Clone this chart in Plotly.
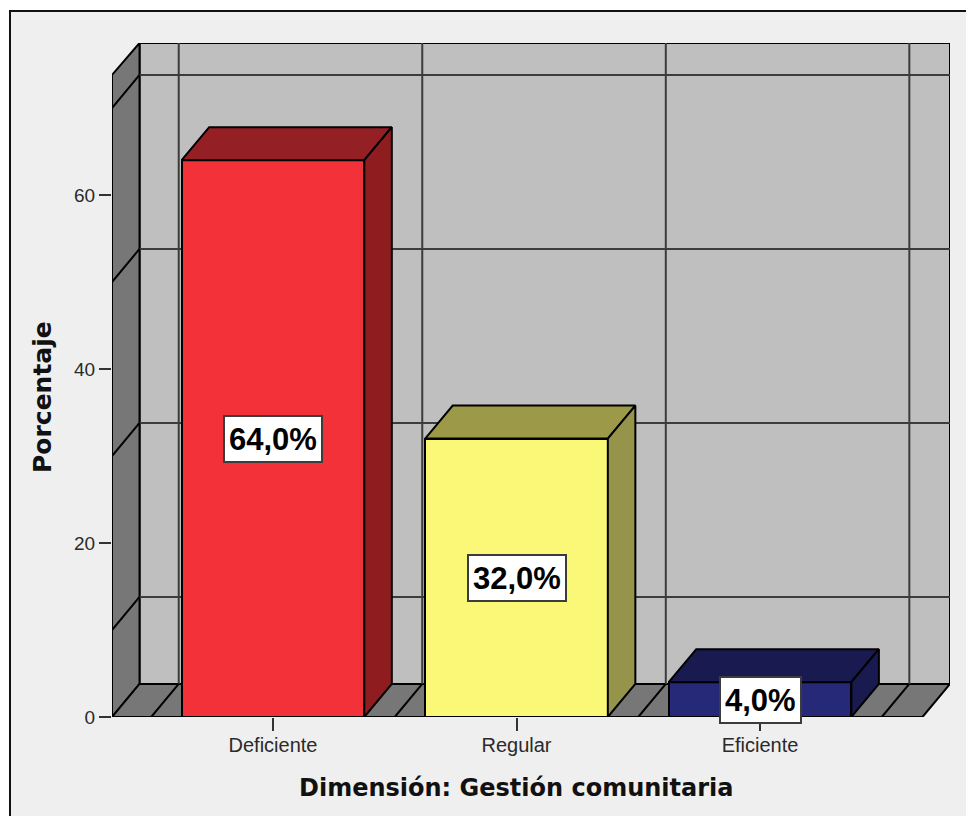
import plotly.graph_objects as go

categories = ["Deficiente", "Regular", "Eficiente"]
values = [64.0, 32.0, 4.0]
labels = ["64,0%", "32,0%", "4,0%"]
front_colors = ["#f23238", "#fbf777", "#262878"]
top_colors = ["#941f24", "#9c9a48", "#191a4f"]
side_colors = ["#8f1d20", "#96944a", "#191a4f"]
y_ticks = [0, 20, 40, 60]
wall_grid = [10, 30, 50, 70]

# fake 3D depth, in axis units
dx = 0.113
dy = 3.8
bar_w = 0.75
x_min = -0.661
x_max = 2.78
y_top = 77.47
wall_top = 73.8
x_right = x_max - dx
LINE = "#000000"
GRID = "#3c3c3c"

fig = go.Figure()

shapes = []


def poly(xs, ys, fill, color=LINE, width=2):
    path = "M " + " L ".join(f"{a},{b}" for a, b in zip(xs, ys)) + " Z"
    return dict(type="path", path=path, xref="x", yref="y", fillcolor=fill,
                line=dict(color=color, width=width), layer="below")


def seg(x0, y0, x1, y1, color=GRID, width=2):
    return dict(type="line", x0=x0, y0=y0, x1=x1, y1=y1, xref="x", yref="y",
                line=dict(color=color, width=width), layer="below")


# walls and floor
back_l = x_min + dx
shapes.append(poly([back_l, x_max, x_max, back_l], [dy, dy, y_top, y_top], "#bfbfbf"))
shapes.append(poly([x_min, back_l, back_l, x_min], [0, dy, y_top, wall_top], "#777777"))
shapes.append(poly([x_min, back_l, x_max, x_right], [0, dy, dy, 0], "#777777"))

for v in wall_grid:
    shapes.append(seg(back_l, v + dy, x_max, v + dy))
    shapes.append(seg(x_min, v, back_l, v + dy, LINE))

for b in [-0.5, 0.5, 1.5, 2.5]:
    shapes.append(seg(b + dx, dy, b + dx, y_top))
    shapes.append(seg(b, 0, b + dx, dy, LINE))

fig.add_trace(go.Bar(
    x=[0, 1, 2], y=values, width=bar_w,
    marker=dict(color=front_colors, line=dict(color=LINE, width=2)),
    hoverinfo="skip", showlegend=False,
))

for i, v in enumerate(values):
    x0 = i - bar_w / 2
    x1 = i + bar_w / 2
    fig.add_trace(go.Scatter(
        x=[x0, x0 + dx, x1 + dx, x1, x0], y=[v, v + dy, v + dy, v, v],
        mode="lines", fill="toself", fillcolor=top_colors[i],
        line=dict(color=LINE, width=2), hoverinfo="skip", showlegend=False,
    ))
    fig.add_trace(go.Scatter(
        x=[x1, x1 + dx, x1 + dx, x1, x1], y=[0, dy, v + dy, v, 0],
        mode="lines", fill="toself", fillcolor=side_colors[i],
        line=dict(color=LINE, width=2), hoverinfo="skip", showlegend=False,
    ))
    fig.add_annotation(
        x=i, y=v / 2, text=labels[i], showarrow=False, height=36,
        font=dict(family="Liberation Sans", size=31, color="#000000", weight="bold"),
        bgcolor="#ffffff", bordercolor="#3c3c3c", borderwidth=2, borderpad=4,
    )

# axis titles placed by hand, the originals are not centred on the plot area
fig.add_annotation(
    xref="paper", yref="paper", x=(516.5 - 112) / 838, y=(717 - 788) / 674,
    xanchor="center", yanchor="middle",
    text="Dimensión: Gestión comunitaria", showarrow=False,
    font=dict(family="DejaVu Sans", size=24, color="#111111", weight="bold"),
)
fig.add_annotation(
    xref="paper", yref="paper", x=(42 - 112) / 838, y=(717 - 397) / 674,
    xanchor="center", yanchor="middle",
    text="Porcentaje", showarrow=False, textangle=-90,
    font=dict(family="DejaVu Sans", size=25, color="#111111", weight="bold"),
)

# outer frame of the screenshot
shapes.append(dict(type="rect", xref="paper", yref="paper",
                   x0=(10 - 112) / 838, x1=(1000 - 112) / 838,
                   y0=-0.2, y1=(717 - 11) / 674,
                   fillcolor="#efefef", line=dict(color="#111111", width=2), layer="below"))
shapes = shapes[-1:] + shapes[:-1]

# the page keeps its 8px body margin, so the figure is 8px smaller each way
fig.update_layout(
    width=966, height=808,
    margin=dict(l=104, r=24, t=35, b=99),
    paper_bgcolor="#ffffff", plot_bgcolor="rgba(0,0,0,0)",
    shapes=shapes, showlegend=False, bargap=0,
    font=dict(family="Liberation Sans", color="#2a2a2a"),
)
fig.update_xaxes(
    range=[x_min, x_max], tickvals=[0, 1, 2], ticktext=categories,
    showgrid=False, zeroline=False, showline=False,
    ticks="outside", ticklen=13, tickwidth=2, tickcolor="#333333",
    tickfont=dict(size=20), ticklabelstandoff=-3,
)
fig.update_yaxes(
    range=[0, y_top], tickvals=y_ticks,
    showgrid=False, zeroline=False, showline=False,
    ticks="outside", ticklen=12, tickwidth=2, tickcolor="#333333",
    tickfont=dict(size=19),
)

fig.write_html("out.html")
